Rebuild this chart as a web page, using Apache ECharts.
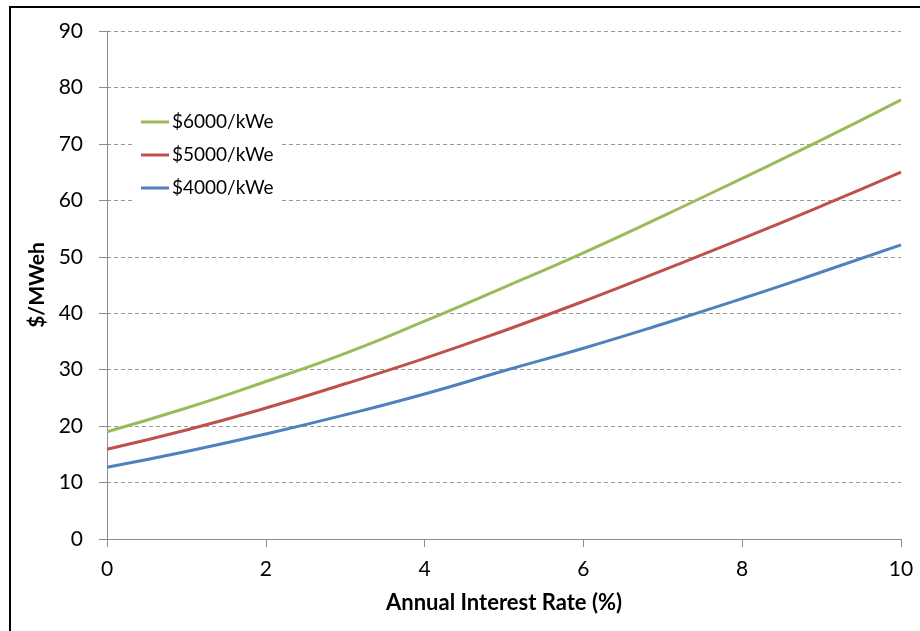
<!DOCTYPE html>
<html>
<head>
<meta charset="utf-8">
<script src="https://cdn.jsdelivr.net/npm/echarts@6/dist/echarts.min.js"></script>
<style>html,body{margin:0;padding:0;background:#fff}#c{width:920px;height:631px}</style>
</head>
<body>
<div id="c"></div>
<script>
const rates = [0, 1, 2, 3, 4, 5, 6, 7, 8, 9, 10];
const cost6000 = [19.0, 23.2, 27.9, 32.9, 38.6, 44.6, 50.7, 57.2, 63.9, 70.7, 77.8];
const cost5000 = [15.9, 19.3, 23.2, 27.5, 32.0, 36.9, 42.1, 47.6, 53.2, 59.0, 65.0];
const cost4000 = [12.7, 15.5, 18.6, 22.0, 25.7, 29.8, 33.8, 38.1, 42.6, 47.3, 52.1];
const seriesNames = ['$6000/kWe', '$5000/kWe', '$4000/kWe'];
const xTicks = [0, 2, 4, 6, 8, 10];
const yTicks = [0, 10, 20, 30, 40, 50, 60, 70, 80, 90];

const FONT = 'Lato';
const chart = echarts.init(document.getElementById('c'), null, {renderer: 'canvas'});
const mk = (name, vals, color) => ({
  name: name, type: 'line', smooth: true, symbol: 'none',
  data: rates.map((r, i) => [r, vals[i]]),
  lineStyle: {color: color, width: 3}, itemStyle: {color: color}
});
chart.setOption({
  animation: false,
  backgroundColor: '#fff',
  textStyle: {fontFamily: FONT},
  graphic: [{type: 'rect', shape: {x: 10, y: 7, width: 1000, height: 1000},
    style: {fill: 'none', stroke: '#000', lineWidth: 2}, z: 100}],
  grid: {left: 107, right: 19, top: 31, bottom: 92, containLabel: false},
  legend: {
    orient: 'vertical', left: 135, top: 106, icon: 'rect',
    itemWidth: 28, itemHeight: 3, itemGap: 13,
    padding: [6, 8, 6, 6], backgroundColor: '#fff',
    data: seriesNames,
    textStyle: {fontFamily: FONT, fontSize: 19, color: '#000', lineHeight: 20, padding: [0, 0, 0, -2]}
  },
  xAxis: {
    type: 'value', min: xTicks[0], max: xTicks[xTicks.length - 1], interval: 2,
    name: 'Annual Interest Rate (%)', nameLocation: 'middle', nameGap: 53,
    nameTextStyle: {fontFamily: FONT, fontSize: 22, fontWeight: 'bold', color: '#000'},
    axisLine: {show: true, lineStyle: {color: '#8c8c8c', width: 1}},
    axisTick: {show: true, length: 8, lineStyle: {color: '#8c8c8c'}},
    axisLabel: {fontFamily: FONT, fontSize: 21, color: '#000', margin: 20},
    splitLine: {show: false}
  },
  yAxis: {
    type: 'value', min: yTicks[0], max: yTicks[yTicks.length - 1], interval: 10,
    name: '$/MWeh', nameLocation: 'middle', nameGap: 55, nameRotate: 90,
    nameTextStyle: {fontFamily: FONT, fontSize: 21, fontWeight: 'bold', color: '#000'},
    axisLine: {show: true, lineStyle: {color: '#8c8c8c', width: 1}},
    axisTick: {show: true, length: 8, lineStyle: {color: '#8c8c8c'}},
    axisLabel: {fontFamily: FONT, fontSize: 21, color: '#000', margin: 24},
    splitLine: {show: true, lineStyle: {color: '#999', type: [4, 3], width: 1}}
  },
  series: [
    mk(seriesNames[0], cost6000, '#9BBB59'),
    mk(seriesNames[1], cost5000, '#C0504D'),
    mk(seriesNames[2], cost4000, '#4F81BD')
  ]
});
</script>
</body>
</html>
